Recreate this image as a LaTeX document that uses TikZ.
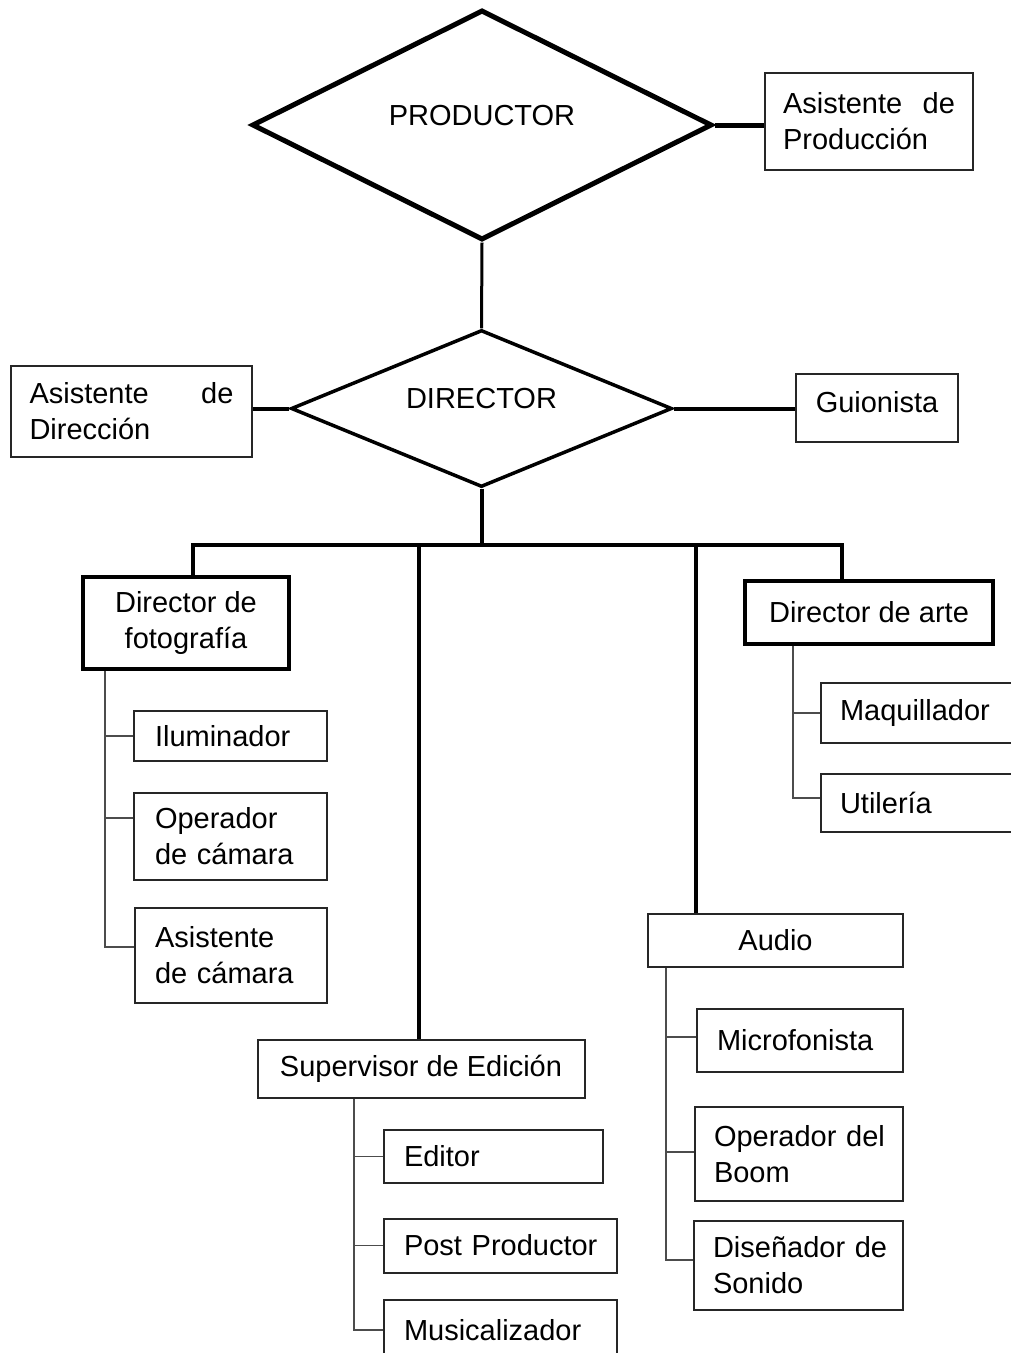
\documentclass[tikz,border=0pt]{standalone}
\usepackage{fontspec}
\setmainfont{Liberation Sans}
\usetikzlibrary{shapes.geometric,calc}
\begin{document}
\begin{tikzpicture}[x=1pt,y=-1pt,
  every node/.style={font=\fontsize{29}{36}\selectfont, inner sep=0pt},
  bx/.style={draw=black!85, line width=2pt, rectangle},
  tbx/.style={draw=black, line width=4pt, rectangle},
  dmd/.style={draw=black, diamond},
  tl/.style={draw=black!70, line width=1.5pt},
  conn/.style={line width=4pt, line join=miter}]
\fill[white] (0,0) rectangle (1011,1353);
\useasboundingbox (0,0) rectangle (1011,1353);

% top level
\node[dmd, line width=5pt, minimum width=460pt, minimum height=230pt] (prod) at (482,125) {\raisebox{0pt}[0pt][0pt]{PRODUCTOR}};
\node[bx, minimum width=208pt, minimum height=97pt, text width=172pt, align=left] (asp) at (869,121.5) {Asistente\hfill de\\Producción};
\node[dmd, line width=3.5pt, minimum width=381pt, minimum height=157pt] (dir) at (481.5,408.5) {\raisebox{0pt}[0pt][0pt]{DIRECTOR}};
\node[bx, minimum width=241pt, minimum height=91pt, text width=204pt, align=left] (asd) at (131.5,411.5) {Asistente\hfill de\\Dirección};
\node[bx, minimum width=162pt, minimum height=68pt] (guion) at (877,408) {\raisebox{0pt}[0pt][0pt]{\raisebox{-4pt}{Guionista}}};

% department heads
\node[tbx, minimum width=206pt, minimum height=92pt, align=center] (dfot) at (186,623) {Director de\\fotografía};
\node[tbx, minimum width=248pt, minimum height=63pt] (dart) at (869,612.5) {Director de arte};
\node[bx, minimum width=327pt, minimum height=58pt] (sup) at (421,1069) {Supervisor de Edición};
\node[bx, minimum width=255pt, minimum height=53pt] (aud) at (775.5,940.5) {Audio};

% photography team
\node[bx, minimum width=193pt, minimum height=50pt, text width=151pt, align=left] (ilu) at (230.5,736) {Iluminador};
\node[bx, minimum width=193pt, minimum height=87pt, text width=151pt, align=left] (opc) at (230.5,836.5) {Operador\\\mbox{de cámara}};
\node[bx, minimum width=192pt, minimum height=95pt, text width=152pt, align=left] (acam) at (231,955.5) {Asistente\\\mbox{de cámara}};

% art team
\node[bx, minimum width=209pt, minimum height=60pt, text width=171pt, align=left] (maq) at (925.5,713) {Maquillador};
\node[bx, minimum width=209pt, minimum height=58pt, text width=171pt, align=left] (util) at (925.5,803) {Utilería};

% editing team
\node[bx, minimum width=219pt, minimum height=53pt, text width=179pt, align=left] (edi) at (493.5,1156.5) {Editor};
\node[bx, minimum width=233pt, minimum height=54pt, text width=193pt, align=left] (pos) at (500.5,1245.5) {\mbox{Post Productor}};
\node[bx, minimum width=233pt, minimum height=60pt, text width=193pt, align=left] (mus) at (500.5,1330) {Musicalizador};

% audio team
\node[bx, minimum width=206pt, minimum height=63pt, text width=166pt, align=left] (mic) at (800,1040.5) {Microfonista};
\node[bx, minimum width=208pt, minimum height=94pt, text width=170pt, align=left] (opb) at (799,1154) {\mbox{Operador del}\\Boom};
\node[bx, minimum width=209pt, minimum height=89pt, text width=171pt, align=left] (dis) at (798.5,1265.5) {\mbox{Diseñador de}\\Sonido};

% upper connectors
\draw[line width=5pt] (prod.east) -- (prod.east -| asp.west);
\draw[line width=3pt] (prod.south) -- (dir.north);
\draw[conn] (dir.west) -- (dir.west -| asd.east);
\draw[conn] (dir.east) -- (dir.east -| guion.west);

% trunk
\coordinate (bus) at (482,545);
\coordinate (fdrop) at (193,545);
\coordinate (edrop) at (419,545);
\coordinate (adrop) at (696,545);
\coordinate (rdrop) at (842,545);
\draw[conn] (dir.south) -- (dir.south |- bus);
\draw[conn] (fdrop |- dfot.north) -- (fdrop) -- (rdrop) -- (rdrop |- dart.north);
\draw[conn] (edrop) -- (edrop |- sup.north);
\draw[conn] (adrop) -- (adrop |- aud.north);

% photography tree
\coordinate (fsp) at (105,0);
\coordinate (opcT) at ([yshift=18.5pt]opc.west);
\coordinate (acamT) at ([yshift=8.5pt]acam.west);
\draw[tl] (dfot.south -| fsp) -- (acamT -| fsp) -- (acamT);
\draw[tl] (ilu.west -| fsp) -- (ilu.west);
\draw[tl] (opcT -| fsp) -- (opcT);

% art tree
\coordinate (rsp) at (793,0);
\coordinate (utilT) at ([yshift=5pt]util.west);
\draw[tl] (dart.south -| rsp) -- (utilT -| rsp) -- (utilT);
\draw[tl] (maq.west -| rsp) -- (maq.west);

% editing tree
\coordinate (esp) at (354,0);
\draw[tl] (sup.south -| esp) -- (mus.west -| esp) -- (mus.west);
\draw[tl] (edi.west -| esp) -- (edi.west);
\draw[tl] (pos.west -| esp) -- (pos.west);

% audio tree
\coordinate (asp2) at (666,0);
\coordinate (micT) at ([yshift=3.5pt]mic.west);
\coordinate (opbT) at ([yshift=2pt]opb.west);
\coordinate (disT) at ([yshift=5.5pt]dis.west);
\draw[tl] (aud.south -| asp2) -- (disT -| asp2) -- (disT);
\draw[tl] (micT -| asp2) -- (micT);
\draw[tl] (opbT -| asp2) -- (opbT);
\end{tikzpicture}
\end{document}
